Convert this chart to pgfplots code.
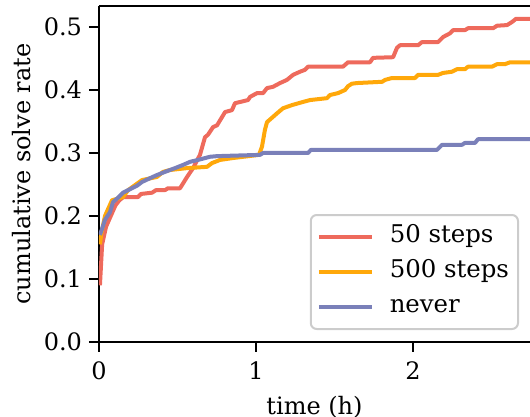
\documentclass[border=0pt]{standalone}
\usepackage{fontspec}
\setmainfont{DejaVu Serif}
\usepackage{pgfplots}
\pgfplotsset{compat=1.18}

\definecolor{cred}{RGB}{238,106,92}
\definecolor{corange}{RGB}{255,168,10}
\definecolor{cblue}{RGB}{122,128,185}

\begin{document}
\begin{tikzpicture}
\begin{axis}[
    name=ax,
    scale only axis,
    width=215.5pt, height=168pt,
    xmin=0, xmax=2.745,
    ymin=0, ymax=0.5333,
    axis x line*=box,
    axis y line*=left,
    axis line style={line width=1.1pt},
    xtick={0,1,2},
    ytick={0,0.1,0.2,0.3,0.4,0.5},
    xtick pos=bottom, ytick pos=left,
    tick align=outside,
    major tick length=5pt,
    tick style={line width=1.1pt, black},
    font=\fontsize{12}{14}\selectfont,
    ticklabel style={font=\fontsize{12}{14}\selectfont},
    /pgf/number format/assume math mode=true,
    y tick label style={/pgf/number format/.cd, fixed, fixed zerofill, precision=1},
    xticklabel style={yshift=-1.5pt},
    xlabel={time (h)},
    ylabel={cumulative solve rate},
    every axis x label/.style={at={(axis description cs:0.5,-0.217)}, anchor=base},
    every axis y label/.style={at={(axis description cs:-0.1787,0.5)}, rotate=90, anchor=center},
    legend cell align=left,
    legend style={
        at={(axis description cs:0.9745,0.0357)}, anchor=south east,
        draw=black!20, line width=1pt, rounded corners=3pt,
        font=\fontsize{12.2}{14}\selectfont,
        inner xsep=3pt, inner ysep=4.5pt, row sep=4.5pt,
        nodes={inner sep=1.5pt, text height=0.75em, text depth=0.25em},
        /tikz/every odd column/.append style={column sep=6.5pt},
    },
    legend image code/.code={\draw[#1, line width=2pt] (0pt,0pt) -- (26.5pt,0pt);},
    every axis plot/.append style={line width=2pt, line join=round},
]
\addplot[cred] coordinates {
(0.006,0.090) (0.020,0.155) (0.045,0.183) (0.075,0.200) (0.105,0.217) (0.130,0.225)
(0.155,0.230) (0.248,0.230) (0.268,0.235) (0.338,0.237) (0.363,0.241) (0.420,0.241)
(0.439,0.244) (0.516,0.244) (0.561,0.262) (0.599,0.276) (0.643,0.297) (0.675,0.325)
(0.694,0.329) (0.726,0.341) (0.752,0.344) (0.803,0.365) (0.847,0.368) (0.866,0.379)
(0.949,0.384) (0.962,0.389) (1.006,0.395) (1.045,0.395) (1.070,0.403) (1.108,0.405)
(1.153,0.411) (1.197,0.416) (1.236,0.424) (1.280,0.429) (1.312,0.432) (1.331,0.437)
(1.554,0.437) (1.586,0.444) (1.726,0.444) (1.745,0.451) (1.873,0.452) (1.898,0.467)
(1.917,0.471) (2.032,0.471) (2.057,0.476) (2.159,0.476) (2.191,0.484) (2.236,0.490)
(2.255,0.495) (2.331,0.495) (2.350,0.498) (2.510,0.498) (2.535,0.502) (2.599,0.503)
(2.631,0.508) (2.656,0.513) (2.745,0.513)
};
\addlegendentry{50 steps}
\addplot[corange] coordinates {
(0.006,0.155) (0.015,0.172) (0.038,0.200) (0.083,0.225) (0.153,0.230) (0.185,0.241)
(0.274,0.257) (0.369,0.262) (0.408,0.270) (0.452,0.273) (0.561,0.276) (0.688,0.278)
(0.720,0.284) (0.771,0.289) (0.854,0.292) (1.019,0.297) (1.038,0.310) (1.057,0.337)
(1.070,0.349) (1.102,0.356) (1.134,0.363) (1.172,0.371) (1.229,0.376) (1.299,0.381)
(1.344,0.384) (1.452,0.387) (1.471,0.392) (1.522,0.395) (1.567,0.400) (1.586,0.406)
(1.611,0.410) (1.643,0.411) (1.803,0.413) (1.822,0.416) (1.866,0.419) (2.013,0.419)
(2.032,0.424) (2.159,0.424) (2.191,0.427) (2.248,0.429) (2.280,0.433) (2.331,0.433)
(2.350,0.437) (2.503,0.437) (2.535,0.441) (2.586,0.441) (2.618,0.444) (2.745,0.444)
};
\addlegendentry{500 steps}
\addplot[cblue] coordinates {
(0.006,0.170) (0.020,0.180) (0.038,0.194) (0.070,0.206) (0.089,0.222) (0.121,0.229)
(0.153,0.237) (0.185,0.241) (0.242,0.248) (0.274,0.254) (0.325,0.260) (0.369,0.265)
(0.420,0.270) (0.484,0.276) (0.535,0.281) (0.580,0.286) (0.631,0.289) (0.707,0.294)
(0.752,0.295) (1.025,0.297) (1.045,0.300) (1.331,0.300) (1.350,0.305) (2.153,0.305)
(2.185,0.313) (2.312,0.313) (2.331,0.316) (2.395,0.316) (2.414,0.322) (2.745,0.322)
};
\addlegendentry{never}
\end{axis}
\pgfresetboundingbox
\path[use as bounding box] ([shift={(-49.5pt,-37.5pt)}]ax.south west) rectangle ([shift={(0pt,3pt)}]ax.north east);
\end{tikzpicture}
\end{document}
